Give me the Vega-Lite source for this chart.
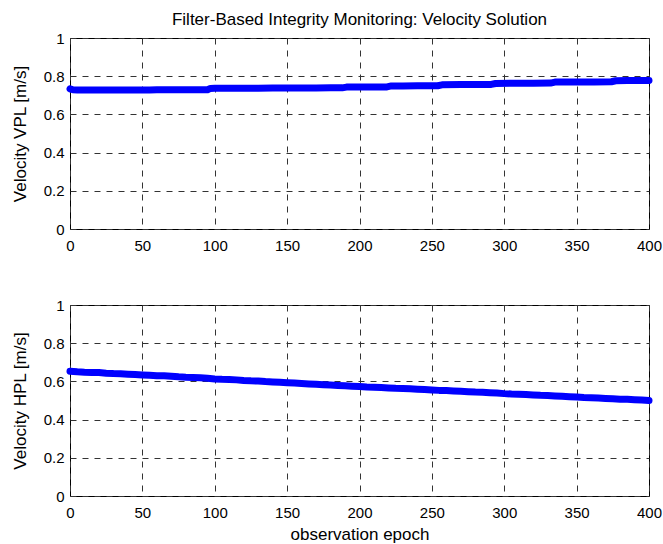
{
  "$schema": "https://vega.github.io/schema/vega-lite/v6.json",
  "background": "white",
  "padding": {"left": 10, "top": 10, "right": 0, "bottom": 0},
  "config": {
    "font": "Liberation Sans",
    "view": {"stroke": "#000000", "strokeWidth": 1},
    "axis": {
      "grid": true, "gridColor": "#333333", "gridDash": [6, 6], "gridOpacity": 1, "gridWidth": 1,
      "domain": false, "ticks": false,
      "labelFont": "Liberation Sans", "labelFontSize": 15, "labelColor": "#000000",
      "titleFont": "Liberation Sans", "titleFontSize": 17, "titleFontWeight": "normal", "titleColor": "#000000",
      "labelFlush": false, "labelOverlap": false
    },
    "axisX": {"labelPadding": 9, "titlePadding": 6},
    "axisY": {"labelPadding": 6, "titlePadding": 14}
  },
  "datasets": {
    "vpl": [
      {"epoch": 0, "vpl": 0.734}, {"epoch": 2, "vpl": 0.729}, {"epoch": 5, "vpl": 0.728}, {"epoch": 10, "vpl": 0.728},
      {"epoch": 15, "vpl": 0.728}, {"epoch": 20, "vpl": 0.728}, {"epoch": 25, "vpl": 0.728}, {"epoch": 30, "vpl": 0.728},
      {"epoch": 35, "vpl": 0.728}, {"epoch": 40, "vpl": 0.728}, {"epoch": 45, "vpl": 0.728}, {"epoch": 50, "vpl": 0.728},
      {"epoch": 55, "vpl": 0.728}, {"epoch": 60, "vpl": 0.729}, {"epoch": 65, "vpl": 0.729}, {"epoch": 70, "vpl": 0.729},
      {"epoch": 75, "vpl": 0.729}, {"epoch": 80, "vpl": 0.729}, {"epoch": 85, "vpl": 0.729}, {"epoch": 90, "vpl": 0.729},
      {"epoch": 95, "vpl": 0.729}, {"epoch": 97, "vpl": 0.736}, {"epoch": 100, "vpl": 0.737}, {"epoch": 110, "vpl": 0.737},
      {"epoch": 120, "vpl": 0.737}, {"epoch": 130, "vpl": 0.737}, {"epoch": 140, "vpl": 0.738}, {"epoch": 150, "vpl": 0.738},
      {"epoch": 160, "vpl": 0.738}, {"epoch": 170, "vpl": 0.738}, {"epoch": 180, "vpl": 0.739}, {"epoch": 188, "vpl": 0.739},
      {"epoch": 191, "vpl": 0.743}, {"epoch": 200, "vpl": 0.743}, {"epoch": 210, "vpl": 0.743}, {"epoch": 219, "vpl": 0.744},
      {"epoch": 222, "vpl": 0.749}, {"epoch": 230, "vpl": 0.749}, {"epoch": 240, "vpl": 0.750}, {"epoch": 254, "vpl": 0.750},
      {"epoch": 257, "vpl": 0.755}, {"epoch": 270, "vpl": 0.756}, {"epoch": 280, "vpl": 0.756}, {"epoch": 291, "vpl": 0.757},
      {"epoch": 294, "vpl": 0.762}, {"epoch": 305, "vpl": 0.763}, {"epoch": 320, "vpl": 0.763}, {"epoch": 332, "vpl": 0.764},
      {"epoch": 335, "vpl": 0.769}, {"epoch": 350, "vpl": 0.770}, {"epoch": 362, "vpl": 0.770}, {"epoch": 374, "vpl": 0.771},
      {"epoch": 377, "vpl": 0.776}, {"epoch": 385, "vpl": 0.777}, {"epoch": 393, "vpl": 0.777}, {"epoch": 400, "vpl": 0.778}
    ],
    "hpl": [
      {"epoch": 0, "hpl": 0.653}, {"epoch": 5, "hpl": 0.650}, {"epoch": 10, "hpl": 0.648}, {"epoch": 15, "hpl": 0.647},
      {"epoch": 20, "hpl": 0.646}, {"epoch": 25, "hpl": 0.643}, {"epoch": 30, "hpl": 0.641}, {"epoch": 35, "hpl": 0.640},
      {"epoch": 40, "hpl": 0.638}, {"epoch": 45, "hpl": 0.636}, {"epoch": 50, "hpl": 0.634}, {"epoch": 55, "hpl": 0.632},
      {"epoch": 60, "hpl": 0.630}, {"epoch": 65, "hpl": 0.629}, {"epoch": 70, "hpl": 0.627}, {"epoch": 75, "hpl": 0.624},
      {"epoch": 80, "hpl": 0.622}, {"epoch": 85, "hpl": 0.621}, {"epoch": 90, "hpl": 0.619}, {"epoch": 95, "hpl": 0.616},
      {"epoch": 100, "hpl": 0.613}, {"epoch": 105, "hpl": 0.611}, {"epoch": 110, "hpl": 0.610}, {"epoch": 115, "hpl": 0.608},
      {"epoch": 120, "hpl": 0.605}, {"epoch": 125, "hpl": 0.603}, {"epoch": 130, "hpl": 0.602}, {"epoch": 135, "hpl": 0.599},
      {"epoch": 140, "hpl": 0.597}, {"epoch": 145, "hpl": 0.595}, {"epoch": 150, "hpl": 0.593}, {"epoch": 155, "hpl": 0.591},
      {"epoch": 160, "hpl": 0.589}, {"epoch": 165, "hpl": 0.587}, {"epoch": 170, "hpl": 0.585}, {"epoch": 175, "hpl": 0.583},
      {"epoch": 180, "hpl": 0.581}, {"epoch": 185, "hpl": 0.579}, {"epoch": 190, "hpl": 0.577}, {"epoch": 195, "hpl": 0.575},
      {"epoch": 200, "hpl": 0.573}, {"epoch": 205, "hpl": 0.571}, {"epoch": 210, "hpl": 0.570}, {"epoch": 215, "hpl": 0.568},
      {"epoch": 220, "hpl": 0.566}, {"epoch": 225, "hpl": 0.564}, {"epoch": 230, "hpl": 0.563}, {"epoch": 235, "hpl": 0.561},
      {"epoch": 240, "hpl": 0.559}, {"epoch": 245, "hpl": 0.557}, {"epoch": 250, "hpl": 0.555}, {"epoch": 255, "hpl": 0.553},
      {"epoch": 260, "hpl": 0.552}, {"epoch": 265, "hpl": 0.550}, {"epoch": 270, "hpl": 0.548}, {"epoch": 275, "hpl": 0.546},
      {"epoch": 280, "hpl": 0.544}, {"epoch": 285, "hpl": 0.543}, {"epoch": 290, "hpl": 0.541}, {"epoch": 295, "hpl": 0.539},
      {"epoch": 300, "hpl": 0.536}, {"epoch": 305, "hpl": 0.534}, {"epoch": 310, "hpl": 0.533}, {"epoch": 315, "hpl": 0.531},
      {"epoch": 320, "hpl": 0.529}, {"epoch": 325, "hpl": 0.527}, {"epoch": 330, "hpl": 0.526}, {"epoch": 335, "hpl": 0.524},
      {"epoch": 340, "hpl": 0.522}, {"epoch": 345, "hpl": 0.520}, {"epoch": 350, "hpl": 0.518}, {"epoch": 355, "hpl": 0.516},
      {"epoch": 360, "hpl": 0.515}, {"epoch": 365, "hpl": 0.513}, {"epoch": 370, "hpl": 0.511}, {"epoch": 375, "hpl": 0.509},
      {"epoch": 380, "hpl": 0.507}, {"epoch": 385, "hpl": 0.506}, {"epoch": 390, "hpl": 0.504}, {"epoch": 395, "hpl": 0.502},
      {"epoch": 400, "hpl": 0.500}
    ]
  },
  "spacing": 76,
  "bounds": "flush",
  "vconcat": [
    {
      "width": 579,
      "height": 191,
      "title": {"text": "Filter-Based Integrity Monitoring: Velocity Solution", "fontSize": 17, "fontWeight": "normal", "color": "#000000", "font": "Liberation Sans", "anchor": "middle", "frame": "group", "offset": 2},
      "data": {"name": "vpl"},
      "mark": {"type": "line", "color": "#0000ff", "strokeWidth": 7, "strokeCap": "round", "strokeJoin": "round"},
      "encoding": {
        "x": {"field": "epoch", "type": "quantitative", "scale": {"domain": [0, 400], "nice": false}, "axis": {"values": [0, 50, 100, 150, 200, 250, 300, 350, 400], "title": null}},
        "y": {"field": "vpl", "type": "quantitative", "scale": {"domain": [0, 1], "nice": false}, "axis": {"values": [0, 0.2, 0.4, 0.6, 0.8, 1], "format": "~g", "title": "Velocity VPL [m/s]"}}
      }
    },
    {
      "width": 579,
      "height": 191,
      "data": {"name": "hpl"},
      "mark": {"type": "line", "color": "#0000ff", "strokeWidth": 7, "strokeCap": "round", "strokeJoin": "round"},
      "encoding": {
        "x": {"field": "epoch", "type": "quantitative", "scale": {"domain": [0, 400], "nice": false}, "axis": {"values": [0, 50, 100, 150, 200, 250, 300, 350, 400], "title": "observation epoch"}},
        "y": {"field": "hpl", "type": "quantitative", "scale": {"domain": [0, 1], "nice": false}, "axis": {"values": [0, 0.2, 0.4, 0.6, 0.8, 1], "format": "~g", "title": "Velocity HPL [m/s]"}}
      }
    }
  ]
}
